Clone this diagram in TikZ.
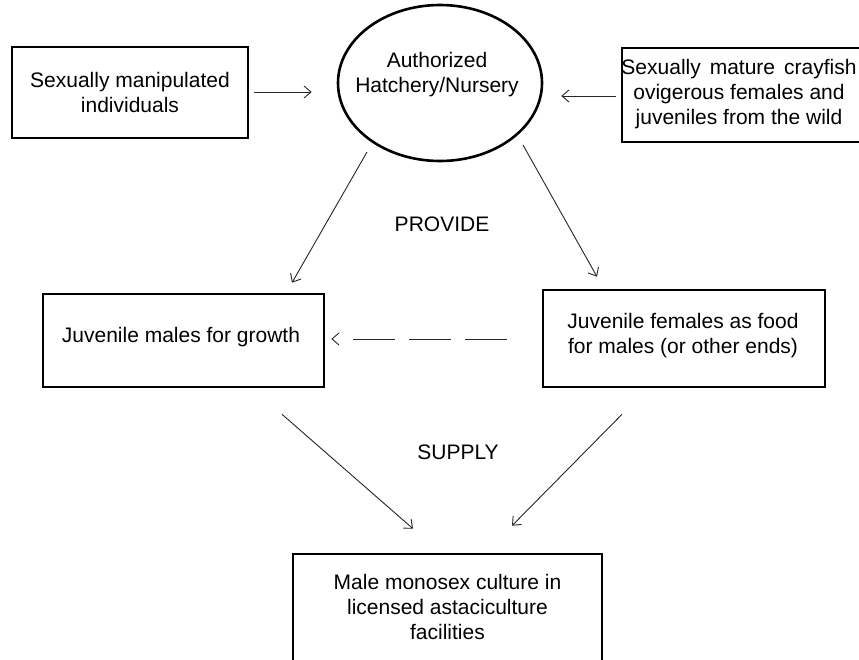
\documentclass[tikz,border=0pt]{standalone}
\usepackage{fontspec}
\setmainfont{Liberation Sans}
\usetikzlibrary{arrows.meta,calc,shapes.geometric}
\tikzset{
  box/.style={draw, line width=2.6pt, rectangle, inner sep=0pt, align=center},
  oval/.style={draw, line width=2.6pt, ellipse, inner sep=0pt},
  txt/.style={align=center, inner sep=0pt},
  conn/.style={line width=0.9pt, draw=black!85, -{Straight Barb[length=7pt,width=12pt,line width=0.9pt]}},
  dashconn/.style={conn, dash pattern=on 42pt off 14pt on 42pt off 14pt on 42pt off 80pt}
}
\begin{document}
\begin{tikzpicture}[x=1pt,y=-1pt,font=\fontsize{21}{25}\selectfont]
\useasboundingbox (0,0) rectangle (859,659);
\fill[white] (0,0) rectangle (859,659);
% nodes
\node[box, minimum width=236pt, minimum height=91pt] (A) at (130,92.5) {Sexually manipulated\\individuals};
\node[oval, minimum width=204pt, minimum height=156pt] (H) at (440,83) {};
\node[txt] (Ht) at (437,75) {Authorized\\Hatchery/Nursery};
\node[box, minimum width=244pt, minimum height=94pt] (W) at (744,95) {};
\node[txt] (Wt) at (739,94) {Sexually\hspace{9pt}mature\hspace{9pt}crayfish\\ovigerous females and\\juveniles from the wild};
\node[box, minimum width=281pt, minimum height=93pt] (M) at (183.5,340.5) {};
\node[txt] (Mt) at (181,337) {Juvenile males for growth};
\node[box, minimum width=282pt, minimum height=97pt] (F) at (684,338.5) {};
\node[txt] (Ft) at (683,336) {Juvenile females as food\\for males (or other ends)};
\node[box, minimum width=309pt, minimum height=108pt] (C) at (447.5,608) {};
\node[txt] (Ct) at (447.5,607) {Male monosex culture in\\licensed astaciculture\\facilities};
\node[txt] (P) at (442,224) {PROVIDE};
\node[txt] (S) at (458,452) {SUPPLY};
% connectors
\draw[conn] ([xshift=5pt]A.east |- 0,92) -- ([xshift=-25pt]H.west |- 0,92);
\draw[conn] ([xshift=-5pt]W.west |- 0,96) -- ([xshift=18pt]H.east |- 0,96);
\draw[conn] ([shift={(-73,69)}]H.center) -- ([shift={(108.5,-10)}]M.north);
\draw[conn] ([shift={(83,62)}]H.center) -- ([shift={(-87,-12)}]F.north);
\draw[dashconn] ([shift={(-35,0)}]F.west |- 0,339) -- ([shift={(6,0)}]M.east |- 0,339);
\draw[conn] ([shift={(98.5,26)}]M.south) -- ([shift={(-34.5,-24)}]C.north);
\draw[conn] ([shift={(-62,26)}]F.south) -- ([shift={(64.5,-27)}]C.north);
\end{tikzpicture}
\end{document}
